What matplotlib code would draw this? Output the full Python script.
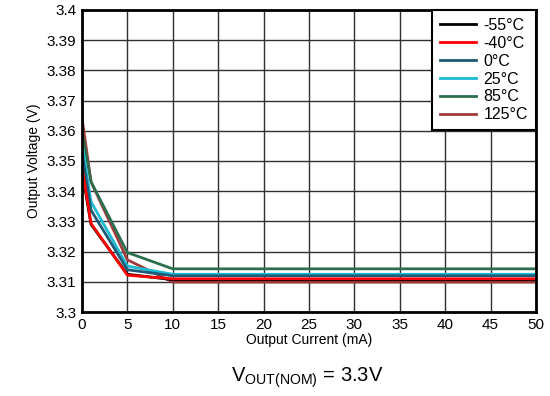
import numpy as np
import matplotlib
import matplotlib.pyplot as plt

matplotlib.rcParams.update({'font.family': ['Liberation Sans', 'DejaVu Sans'], 'font.size': 11})

current = [0, 1, 5, 10, 15, 20, 25, 30, 35, 40, 45, 50]

temps = ['-55°C', '-40°C', '0°C', '25°C', '85°C', '125°C']
colors = ['#000000', '#ff0000', '#1d5b78', '#19bcd2', '#2a6e4e', '#a33a3a']

v_m55 = [3.3470, 3.3290, 3.3125, 3.3107, 3.3107, 3.3107, 3.3107, 3.3107, 3.3107, 3.3107, 3.3107, 3.3107]
v_m40 = [3.3480, 3.3293, 3.3122, 3.3110, 3.3110, 3.3110, 3.3110, 3.3110, 3.3110, 3.3110, 3.3110, 3.3110]
v_0   = [3.3530, 3.3337, 3.3140, 3.3120, 3.3120, 3.3120, 3.3120, 3.3120, 3.3120, 3.3120, 3.3120, 3.3120]
v_25  = [3.3558, 3.3365, 3.3152, 3.3125, 3.3125, 3.3125, 3.3125, 3.3125, 3.3125, 3.3125, 3.3125, 3.3125]
v_85  = [3.3600, 3.3431, 3.3197, 3.3143, 3.3143, 3.3143, 3.3143, 3.3143, 3.3143, 3.3143, 3.3143, 3.3143]
v_125 = [3.3644, 3.3431, 3.3173, 3.3099, 3.3099, 3.3099, 3.3099, 3.3099, 3.3099, 3.3099, 3.3099, 3.3099]

series = [v_m55, v_m40, v_0, v_25, v_85, v_125]

fig = plt.figure(figsize=(5.5, 3.96), dpi=100)
ax = fig.add_axes([0.149, 0.212, 0.8255, 0.763])

# colder curves drawn last so they sit on top
order = [5, 4, 3, 2, 0, 1]
lines = {}
for i in order:
  l, = ax.plot(current, series[i], color=colors[i], lw=2, label=temps[i], zorder=3)
  lines[i] = l

ax.set_xlim(0, 50)
ax.set_ylim(3.3, 3.4)
ax.set_xticks(np.arange(0, 51, 5))
ax.set_yticks(np.arange(3.3, 3.4001, 0.01))
ax.set_yticklabels(['3.3', '3.31', '3.32', '3.33', '3.34', '3.35', '3.36', '3.37', '3.38', '3.39', '3.4'])
ax.grid(True, color='#303030', lw=1)
ax.tick_params(length=0, labelsize=11, pad=4)
for s in ax.spines.values():
  s.set_linewidth(2)
  s.set_zorder(5)

ax.set_xlabel('Output Current (mA)', fontsize=10, labelpad=1)
ax.set_ylabel('Output Voltage (V)', fontsize=10, labelpad=4)

leg = ax.legend([lines[i] for i in range(6)], temps, loc='upper right', bbox_to_anchor=(1, 1),
                borderaxespad=0, fancybox=False, edgecolor='black', framealpha=1,
                fontsize=11.5, handlelength=2.2, labelspacing=0.18, handletextpad=0.5,
                borderpad=0.5)
leg.get_frame().set_linewidth(1.5)
leg.set_zorder(6)

fig.text(0.558, 0.035, r'V$_{\mathregular{OUT(NOM)}}$ = 3.3V', ha='center', fontsize=14.5)

fig.savefig('out.png', dpi=100)
